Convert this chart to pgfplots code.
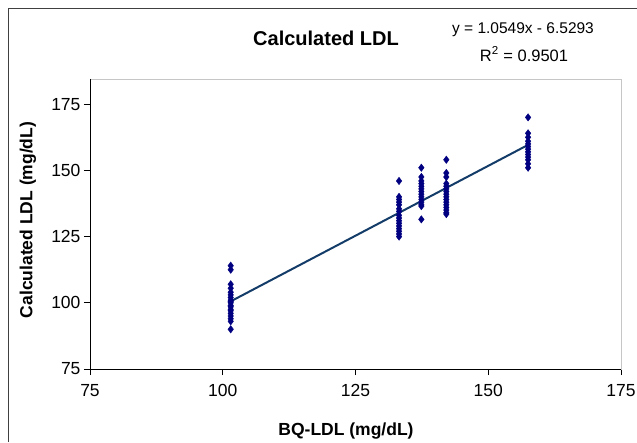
\documentclass[border=0pt]{standalone}
\usepackage{pgfplots}
\pgfplotsset{compat=1.18}
\usepackage{fontspec}
\setmainfont{Liberation Sans}

\definecolor{ptnavy}{RGB}{0,0,128}
\definecolor{trend}{RGB}{20,60,105}
\definecolor{frame}{RGB}{64,64,64}

\begin{document}
\begin{tikzpicture}
\useasboundingbox (0pt,0pt) rectangle (637pt,442pt);
% chart frame (only left and top edges visible)
\draw[frame, line width=1.6pt] (8.5pt,0pt) -- (8.5pt,433.5pt) -- (637pt,433.5pt);

\begin{axis}[
    at={(90pt,73pt)}, anchor=south west,
    scale only axis,
    width=531pt, height=290pt,
    xmin=75, xmax=175,
    ymin=75, ymax=184.5,
    xtick={75,100,125,150,175},
    ytick={75,100,125,150,175},
    tick pos=left,
    tick align=outside,
    major tick length=6pt,
    tick style={black, line width=0.6pt},
    axis line style={gray!45, line width=0.8pt},
    ticklabel style={font=\fontsize{17.5}{19}\selectfont},
    xticklabel style={yshift=-6pt},
    /pgf/number format/assume math mode=true,
    clip=false,
]
\draw[black, line width=0.8pt] (axis cs:75,184.5) -- (axis cs:75,75) -- (axis cs:175,75);

\addplot[trend, line width=2pt] coordinates {(101.5,100.54) (157.5,159.62)};

\addplot[only marks, mark=diamond*, mark size=3.7pt, ptnavy] table {
x y
101.5 114
101.5 112.5
101.5 107
101.5 105.5
101.5 104
101.5 103
101.5 102
101.5 101
101.5 100.5
101.5 100
101.5 99
101.5 98.5
101.5 97.5
101.5 97
101.5 96
101.5 95
101.5 94
101.5 93
101.5 90
};
\addplot[only marks, mark=diamond*, mark size=3.7pt, ptnavy] table {
x y
133.2 146
133.2 140
133.2 139
133.2 138
133.2 137
133.2 135.5
133.2 134.5
133.2 133
133.2 132
133.2 131
133.2 130
133.2 129
133.2 128
133.2 127
133.2 126
133.2 125
};
\addplot[only marks, mark=diamond*, mark size=3.7pt, ptnavy] table {
x y
137.4 151
137.4 147.5
137.4 146
137.4 145
137.4 144
137.4 143
137.4 142
137.4 141
137.4 140
137.4 139
137.4 138
137.4 137
137.4 136.5
137.4 131.5
};
\addplot[only marks, mark=diamond*, mark size=3.7pt, ptnavy] table {
x y
142.1 154
142.1 149
142.1 147.5
142.1 145
142.1 144
142.1 143
142.1 142
142.1 141
142.1 140
142.1 139
142.1 138
142.1 137
142.1 136
142.1 135
142.1 134
142.1 133.5
};
\addplot[only marks, mark=diamond*, mark size=3.7pt, ptnavy] table {
x y
157.5 170
157.5 164
157.5 162.5
157.5 161
157.5 160
157.5 159
157.5 158
157.5 157
157.5 156
157.5 155
157.5 154
157.5 152.5
157.5 151
};
\end{axis}

\node[font=\bfseries\fontsize{20}{22}\selectfont] at (326pt,404pt) {Calculated LDL};
\node[font=\fontsize{15.5}{18}\selectfont] at (523pt,412pt) {y = 1.0549x - 6.5293};
\node[font=\fontsize{16.5}{18}\selectfont] at (524pt,388pt) {R\textsuperscript{2} = 0.9501};
\node[font=\bfseries\fontsize{17.5}{19}\selectfont] at (346pt,11pt) {BQ-LDL (mg/dL)};
\node[font=\bfseries\fontsize{17.5}{19}\selectfont, rotate=90] at (28pt,222pt) {Calculated LDL (mg/dL)};
\end{tikzpicture}
\end{document}
